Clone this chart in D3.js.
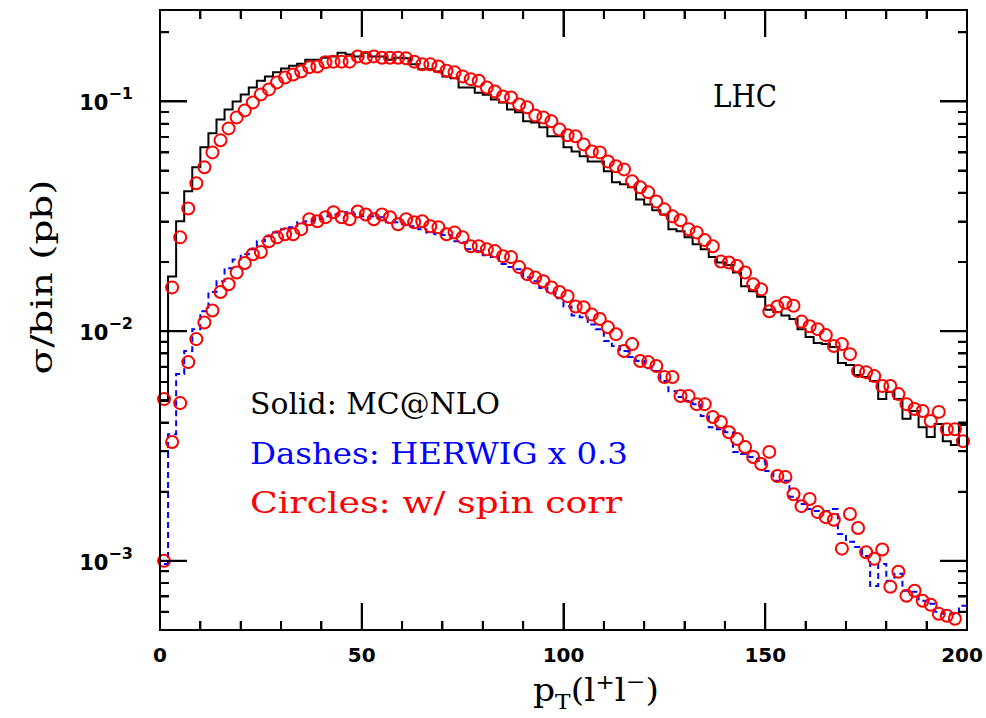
<!DOCTYPE html>
<html><head><meta charset="utf-8">
<script src="https://cdn.jsdelivr.net/npm/d3@7"></script>
<style>body{margin:0;background:#fff;overflow:hidden}#wrap{position:relative;width:986px;height:718px}#ticks{position:absolute;left:0;top:0;width:986px;height:718px;pointer-events:none}</style>
</head><body>
<div id="wrap"><svg id="c" width="986" height="718"></svg><div id="ticks"></div></div>
<script>
// ---- data ----
const binWidth = 2;
const binLow = [0,2,4,6,8,10,12,14,16,18,20,22,24,26,28,30,32,34,36,38,40,42,44,46,48,50,52,54,56,58,60,62,64,66,68,70,72,74,76,78,80,82,84,86,88,90,92,94,96,98,100,102,104,106,108,110,112,114,116,118,120,122,124,126,128,130,132,134,136,138,140,142,144,146,148,150,152,154,156,158,160,162,164,166,168,170,172,174,176,178,180,182,184,186,188,190,192,194,196,198];

// MC@NLO (solid black histogram)
const mcnlo = [0.00496,0.0173,0.0301,0.0406,0.0517,0.0631,0.0726,0.0835,0.0923,0.100,
0.1073,0.115,0.123,0.1285,0.134,0.139,0.143,0.146,0.152,0.152,
0.155,0.157,0.163,0.160,0.157,0.163,0.157,0.157,0.152,0.155,
0.154,0.145,0.138,0.138,0.135,0.1285,0.126,0.115,0.115,0.109,
0.107,0.102,0.099,0.0923,0.0896,0.0819,0.0810,0.0771,0.0705,0.0705,
0.0631,0.0606,0.0577,0.0548,0.0548,0.0496,0.0445,0.0436,0.0423,0.0374,
0.0356,0.0336,0.0322,0.0278,0.0272,0.0256,0.0239,0.0227,0.0210,0.0199,
0.0194,0.0180,0.0157,0.0149,0.0141,0.0124,0.0121,0.0117,0.0113,0.0102,
0.00942,0.00887,0.00878,0.00852,0.00726,0.00712,0.00644,0.00631,0.00606,0.00506,
0.00543,0.00506,0.00415,0.00449,0.00382,0.00346,0.00394,0.00332,0.00319,0.0039];

// MC@NLO with spin correlations (red circles, upper)
const mcnloSpin = [0.00506,0.0155,0.0256,0.0342,0.0440,0.0517,0.0600,0.0677,0.0763,0.0852,
0.0914,0.0990,0.1073,0.1128,0.121,0.127,0.131,0.135,0.141,0.142,
0.148,0.149,0.149,0.149,0.157,0.155,0.157,0.155,0.155,0.155,
0.154,0.149,0.145,0.145,0.142,0.136,0.134,0.1285,0.125,0.123,
0.115,0.1105,0.105,0.104,0.097,0.0942,0.0869,0.0852,0.0819,0.0755,
0.0712,0.0705,0.0650,0.0606,0.0600,0.0548,0.0522,0.0506,0.0449,0.0423,
0.0402,0.0367,0.0339,0.0316,0.0304,0.0278,0.0269,0.0249,0.0234,0.0201,
0.0199,0.0192,0.0180,0.0160,0.0152,0.0122,0.0128,0.0133,0.0129,0.0110,
0.0105,0.0102,0.00961,0.00861,0.00878,0.00794,0.00670,0.00663,0.00637,0.00577,
0.00577,0.00532,0.00481,0.00458,0.00449,0.00406,0.00445,0.00374,0.00374,0.00332];

// HERWIG x 0.3 (blue dashed histogram)
const herwig = [0.000970,0.00356,0.00650,0.00819,0.0102,0.0122,0.0148,0.0165,0.0188,0.0205,
0.0216,0.0227,0.0246,0.0259,0.0269,0.0278,0.0283,0.0298,0.0301,0.0307,
0.0316,0.0322,0.0322,0.0329,0.0322,0.0316,0.0316,0.0313,0.0298,0.0298,
0.0292,0.0286,0.0278,0.0269,0.0264,0.0262,0.0246,0.0244,0.0227,0.0223,
0.0214,0.0210,0.0196,0.0190,0.0186,0.0171,0.0165,0.0154,0.0148,0.0139,
0.0128,0.0117,0.0115,0.0107,0.0102,0.00905,0.00861,0.00819,0.00771,0.00741,
0.00690,0.00670,0.00606,0.00548,0.00517,0.00496,0.00481,0.00427,0.00382,0.00374,
0.00363,0.00298,0.00292,0.00283,0.00272,0.00246,0.00223,0.00223,0.00190,0.00177,
0.00168,0.00165,0.00165,0.00168,0.00131,0.00121,0.00115,0.00105,0.000778,0.000970,
0.000819,0.000878,0.000741,0.000733,0.000670,0.000650,0.000600,0.000588,0.000588,0.000637];

// HERWIG with spin correlations (red circles, lower)
const herwigSpin = [0.00100,0.00329,0.00486,0.00733,0.00923,0.0109,0.0123,0.0148,0.0160,0.0180,
0.0198,0.0216,0.0221,0.0246,0.0256,0.0264,0.0264,0.0278,0.0307,0.0301,
0.0313,0.0329,0.0313,0.0307,0.0332,0.0322,0.0307,0.0322,0.0313,0.0292,
0.0307,0.0298,0.0301,0.0286,0.0283,0.0264,0.0269,0.0256,0.0234,0.0234,
0.0227,0.0223,0.0212,0.0210,0.0190,0.0177,0.0171,0.0165,0.0155,0.0148,
0.0142,0.0128,0.0127,0.0118,0.0113,0.0104,0.00970,0.00819,0.00878,0.00741,
0.00733,0.00705,0.00631,0.00631,0.00522,0.00522,0.00481,0.00481,0.00423,0.00402,
0.00363,0.00339,0.00313,0.00283,0.00264,0.00298,0.00234,0.00232,0.00195,0.00173,
0.00186,0.00163,0.00155,0.00151,0.00113,0.00160,0.00139,0.00109,0.00102,0.00112,
0.000771,0.000896,0.000705,0.000741,0.000670,0.000644,0.000588,0.000577,0.000560,null];

const xMajorTicks = [0,50,100,150,200];
const xMinorTicks = [10,20,30,40,60,70,80,90,110,120,130,140,160,170,180,190];
const yMajorTicks = [1e-1,1e-2,1e-3];
const yTickExponents = ["\u22121","\u22122","\u22123"];
const legendLines = ["Solid: MC@NLO","Dashes: HERWIG x 0.3","Circles: w/ spin corr"];
const legendColors = ["#000000","#0000ff","#ff0000"];

// ---- layout ----
const W = 986, L = 160, R = 967, T = 10, B = 630;
const svg = d3.select("#c");
const x = d3.scaleLinear().domain([0,200]).range([L,R]);
const y = d3.scaleLog().domain([5e-4,0.25]).range([B,T]);

// ---- tick geometry (inward ticks on all four sides) ----
const majLen = 27, minLen = 9;
const yMinor = y.ticks(30).filter(v=>{const l=Math.log10(v);return Math.abs(l-Math.round(l))>1e-6;});
const tickSpecs = [];
xMajorTicks.forEach(d=>{ tickSpecs.push({x:x(d)-1,y:B-majLen,w:2,h:majLen},{x:x(d)-1,y:T,w:2,h:majLen}); });
xMinorTicks.forEach(d=>{ tickSpecs.push({x:x(d)-1,y:B-minLen,w:2,h:minLen},{x:x(d)-1,y:T,w:2,h:minLen}); });
yMajorTicks.forEach(d=>{ tickSpecs.push({x:L,y:y(d)-1,w:majLen,h:2},{x:R-majLen,y:y(d)-1,w:majLen,h:2}); });
yMinor.forEach(d=>{ tickSpecs.push({x:L,y:y(d)-1,w:minLen,h:2},{x:R-minLen,y:y(d)-1,w:minLen,h:2}); });

// ticks in the svg
const tp = d3.path();
tickSpecs.forEach(t=>{
  if (t.w===2){ tp.moveTo(t.x+1,t.y); tp.lineTo(t.x+1,t.y+t.h); }
  else { tp.moveTo(t.x,t.y+1); tp.lineTo(t.x+t.w,t.y+1); }
});
svg.append("path").attr("d",tp.toString()).attr("fill","none")
  .attr("stroke","#000").attr("stroke-width",2);

// ---- data marks ----
const plot = svg.append("g");
function histPath(vals){
  const pts = [[binLow[0], y.domain()[0]]];
  binLow.forEach((b,i)=>pts.push([b, vals[i]]));
  pts.push([binLow[binLow.length-1]+binWidth, vals[vals.length-1]]);
  return d3.line().x(d=>x(d[0])).y(d=>y(d[1])).curve(d3.curveStepAfter)(pts);
}
plot.append("path").attr("d",histPath(mcnlo)).attr("fill","none")
  .attr("stroke","#000").attr("stroke-width",2);
plot.append("path").attr("d",histPath(herwig)).attr("fill","none")
  .attr("stroke","#0000ff").attr("stroke-width",2).attr("stroke-dasharray","6,4");

function circles(vals){
  plot.append("g").selectAll("circle")
    .data(binLow.map((b,i)=>({c:b+binWidth/2, v:vals[i]})).filter(d=>d.v!=null))
    .join("circle")
    .attr("cx",d=>x(d.c)).attr("cy",d=>y(d.v)).attr("r",6)
    .attr("fill","none").attr("stroke","#ff0000").attr("stroke-width",2);
}
circles(mcnloSpin);
circles(herwigSpin);

// frame
svg.append("rect").attr("x",L).attr("y",T).attr("width",R-L).attr("height",B-T)
  .attr("fill","none").attr("stroke","#000").attr("stroke-width",2);

// tick overlay layer (HTML), same geometry
d3.select("#ticks").selectAll("div").data(tickSpecs).join("div")
  .style("position","absolute").style("background","#000")
  .style("left",d=>d.x+"px").style("top",d=>d.y+"px")
  .style("width",d=>d.w+"px").style("height",d=>d.h+"px");

// tick labels
const sans = "DejaVu Sans, Arial, sans-serif";
svg.append("g").selectAll("text").data(xMajorTicks).join("text")
  .attr("x",d=>Math.min(x(d), W-24)).attr("y",662).attr("text-anchor","middle")
  .attr("font-family",sans).attr("font-weight","bold")
  .attr("font-size",20).text(d=>d);

const yl = svg.append("g").selectAll("text").data(yMajorTicks).join("text")
  .attr("x",133).attr("y",d=>y(d)+9).attr("text-anchor","end")
  .attr("font-family",sans).attr("font-weight","bold")
  .attr("font-size",21);
yl.append("tspan").text("10");
yl.append("tspan").attr("dy",-11).attr("font-size",16).text((d,i)=>yTickExponents[i]);

// axis titles
const serif = "DejaVu Serif, serif";
svg.append("text").attr("transform","translate(52,277) rotate(-90)")
  .attr("text-anchor","middle").attr("font-family",serif).attr("font-size",30)
  .attr("textLength",195).attr("lengthAdjust","spacingAndGlyphs")
  .text("\u03C3/bin (pb)");

const xt = svg.append("text").attr("x",533).attr("y",701)
  .attr("font-family",serif).attr("font-size",31)
  .attr("textLength",126).attr("lengthAdjust","spacingAndGlyphs");
xt.append("tspan").text("p");
xt.append("tspan").attr("font-size",21).attr("dy",8).text("T");
xt.append("tspan").attr("dy",-8).text("(l");
xt.append("tspan").attr("font-size",21).attr("dy",-12).text("+");
xt.append("tspan").attr("dy",12).text("l");
xt.append("tspan").attr("font-size",21).attr("dy",-12).text("\u2212");
xt.append("tspan").attr("dy",12).text(")");

svg.append("text").attr("x",713).attr("y",107).attr("font-family",serif)
  .attr("font-size",31).attr("textLength",64).attr("lengthAdjust","spacingAndGlyphs").text("LHC");

const legendLens = [250,378,372];
svg.append("g").selectAll("text").data(legendLines).join("text")
  .attr("x",250).attr("y",(d,i)=>414+i*49.5)
  .attr("font-family",serif).attr("font-size",30)
  .attr("fill",(d,i)=>legendColors[i])
  .attr("textLength",(d,i)=>legendLens[i]).attr("lengthAdjust","spacingAndGlyphs")
  .text(d=>d);
</script>
</body></html>
